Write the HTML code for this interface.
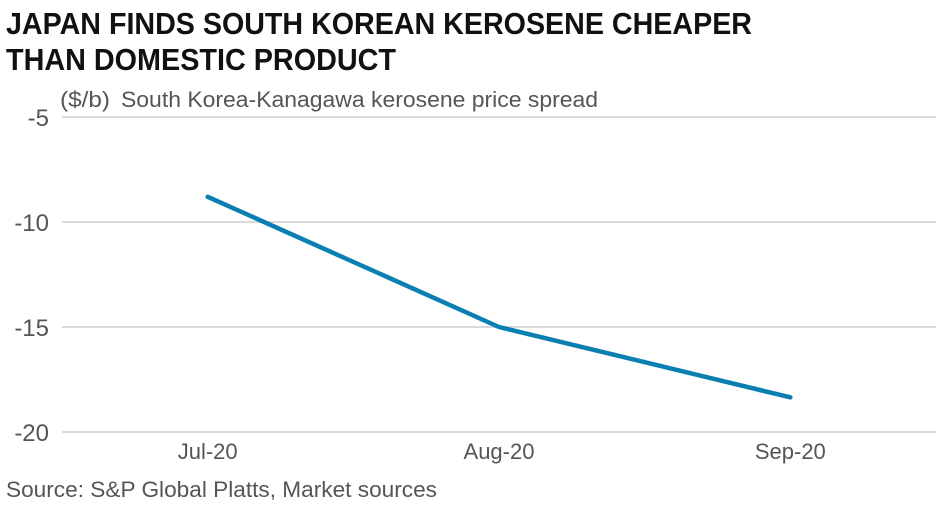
<!DOCTYPE html>
<html><head><meta charset="utf-8"><style>
body{margin:0;background:#fff;}
svg{display:block;font-family:"Liberation Sans",sans-serif;}
</style></head><body>
<svg id="chart" width="936" height="516">
<text x="6" y="34" font-size="31" font-weight="bold" fill="#111" textLength="746" lengthAdjust="spacingAndGlyphs">JAPAN FINDS SOUTH KOREAN KEROSENE CHEAPER</text>
<text x="6" y="70" font-size="31" font-weight="bold" fill="#111" textLength="390" lengthAdjust="spacingAndGlyphs">THAN DOMESTIC PRODUCT</text>
<text x="60" y="107" font-size="22" fill="#555" textLength="50" lengthAdjust="spacingAndGlyphs">($/b)</text>
<text x="121" y="107" font-size="22" fill="#555" textLength="477" lengthAdjust="spacingAndGlyphs">South Korea-Kanagawa kerosene price spread</text>
<g id="grid"></g><g id="marks"></g>
<text x="6" y="497" font-size="22" fill="#555" textLength="431" lengthAdjust="spacingAndGlyphs">Source: S&amp;P Global Platts, Market sources</text>
</svg>
<script>
const categories=["Jul-20","Aug-20","Sep-20"];
const values=[-8.8,-15.0,-18.35];
const yTicks=[-5,-10,-15,-20];
const NS="http://www.w3.org/2000/svg";
const x0=62,x1=936,yTop=117,yBot=432,vTop=-5,vBot=-20;
const band=(x1-x0)/categories.length;
const xs=i=>x0+band*(i+0.5);
const ys=v=>yTop+(v-vTop)/(vBot-vTop)*(yBot-yTop);
function mk(t,a,p){const e=document.createElementNS(NS,t);for(const k in a)e.setAttribute(k,a[k]);p.appendChild(e);return e;}
const g=document.getElementById('grid'),m=document.getElementById('marks');
yTicks.forEach(v=>{
 const l=mk('line',{x1:x0,x2:x1,y1:ys(v),y2:ys(v),stroke:'#d9d9d9','stroke-width':2},g);
 
 
 const t=mk('text',{x:49,y:ys(v)+9,'font-size':24,fill:'#555','text-anchor':'end'},g);
 t.textContent=v;
 
 
});
categories.forEach((c,i)=>{
 const t=mk('text',{x:xs(i),y:459,'font-size':22,fill:'#555','text-anchor':'middle'},g);
 t.textContent=c;
 
 
});
const pl=mk('polyline',{points:values.map((v,i)=>xs(i)+','+ys(v)).join(' '),fill:'none',stroke:'#0a7fb2','stroke-width':4.5,'stroke-linecap':'round','stroke-linejoin':'round'},m);


</script>
</body></html>
